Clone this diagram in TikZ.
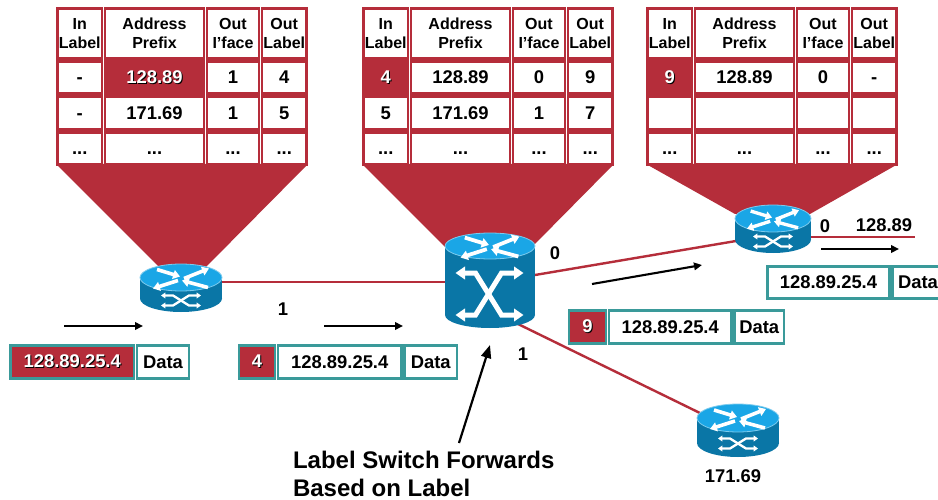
\documentclass[tikz,border=0pt]{standalone}
\usepackage{fontspec}
\setmainfont{Liberation Sans}
\usetikzlibrary{arrows.meta,calc}
\definecolor{mplsred}{HTML}{B52D3A}
\definecolor{pktteal}{HTML}{3A9A9A}
\definecolor{rtop}{HTML}{1AA6E6}
\definecolor{rside}{HTML}{0A76A6}
\definecolor{redge}{HTML}{7CCBEE}
\newcommand\shtxt[1]{\leavevmode\rlap{\kern1pt\raisebox{-1pt}{\color{black}#1}}#1}
\newcommand\lowtxt[1]{\vphantom{1}#1}
\tikzset{
  base/.style={inner sep=0pt,outer sep=0pt,font=\bfseries\fontsize{18.4}{19}\selectfont,text=black},
  cellfont/.style={},
  hdrfont/.style={font=\bfseries\fontsize{16}{19}\selectfont},
  bigfont/.style={font=\bfseries\fontsize{24}{28}\selectfont,align=left},
  funnel/.style={fill=mplsred,draw=none},
  linkline/.style={draw=mplsred,line width=2.4pt},
  flow/.style={draw=black,line width=2.1pt,-{Triangle[length=8pt,width=7.5pt]}},
  bigflow/.style={draw=black,line width=2.2pt,-{Triangle[length=13pt,width=10pt]}},
  whitearrow/.style={draw=white,-{Triangle[length=0pt 1.9,width=0pt 2.5]}},
  whitearrows/.style={draw=white,{Triangle[length=0pt 1.9,width=0pt 2.5]}-{Triangle[length=0pt 1.9,width=0pt 2.5]}},
}
% cell: name, x1, y1, x2, y2, border colour, fill, text colour, text
\newcommand\cell[9]{%
  \pgfmathsetmacro\cw{#4-#2-2.8}\pgfmathsetmacro\ch{#5-#3-2.8}%
  \node[base,cellfont,draw=#6,line width=2.5pt,fill=#7,text=#8,minimum width=\cw pt,minimum height=\ch pt,align=center] (#1) at ({(#2+#4)/2},{(#3+#5)/2}) {#9};}
% table header cell
\newcommand\hdrcell[4]{\begingroup\tikzset{cellfont/.style={hdrfont}}\cell{#1}{#2}{7}{#3}{60}{mplsred}{white}{black}{#4}\endgroup}
\newcommand\topicon[3]{%
  \begin{scope}[shift={(#1,#2)},x=#3pt,y=-#3pt]
    \draw[whitearrow,line width=#3*3.6pt] (-24,-8) -- (-1,-1);
    \draw[whitearrow,line width=#3*3.6pt] (3,1) -- (28,-9);
    \draw[whitearrow,line width=#3*3.6pt] (-3,3) -- (-28,11);
    \draw[whitearrow,line width=#3*3.6pt] (27,10) -- (1,3);
  \end{scope}}
% router: name, cx, cy(top ellipse), rx, ry, height, icon-scale
\newcommand\router[7]{%
  \coordinate (#1) at (#2,#3+#6/2);
  \fill[rside] (#2,#3+#6) ellipse [x radius=#4,y radius=#5];
  \fill[rside] (#2-#4,#3) rectangle (#2+#4,#3+#6);
  \fill[rtop,draw=redge,line width=.8pt] (#2,#3) ellipse [x radius=#4,y radius=#5];
  \topicon{#2}{#3}{#7}
  \begin{scope}[shift={(#2,#3+#5+#6/2-1)}]
    \draw[whitearrows,line width=2.3pt] (-20,-5) -- (-8,-5) -- (8,5) -- (20,5);
    \draw[whitearrows,line width=2.3pt] (-20,5) -- (-8,5) -- (8,-5) -- (20,-5);
  \end{scope}}
\newcommand\lsrouter[7]{%
  \coordinate (#1) at (#2,#3+#6/2);
  \fill[rside] (#2,#3+#6) ellipse [x radius=#4,y radius=#5];
  \fill[rside] (#2-#4,#3) rectangle (#2+#4,#3+#6);
  \fill[rtop,draw=redge,line width=.8pt] (#2,#3) ellipse [x radius=#4,y radius=#5];
  \topicon{#2}{#3}{#7}
  \begin{scope}[shift={(#2-.5,#3+48)}]
    \draw[whitearrows,line width=5pt] (-34,-21) -- (-14,-21) -- (12,21) -- (34,21);
    \draw[whitearrows,line width=5pt] (-34,21) -- (-14,21) -- (12,-21) -- (34,-21);
  \end{scope}}
\begin{document}
\begin{tikzpicture}[x=1pt,y=-1pt]
\useasboundingbox (0,0) rectangle (938,500);
\fill[white] (0,0) rectangle (938,500);
% funnels
\fill[funnel] (56,164) -- (308,164) -- (205,268) -- (160,268) -- cycle;
\fill[funnel] (362,164) -- (614,164) -- (532,247) -- (445,247) -- cycle;
\fill[funnel] (646,164) -- (898,164) -- (810,214) -- (735,214) -- cycle;
% named end points and routers
\coordinate (r3out) at (915,237);
\coordinate (r1p) at (222,282);
\coordinate (lsrw) at (445,282);
\coordinate (lsre) at (535,275);
\coordinate (r3w) at (736,241);
\coordinate (r3e) at (810,237);
\coordinate (lsrs) at (518,324);
\coordinate (r4w) at (702,414);
\draw[linkline] (r1p) -- (lsrw);
\draw[linkline] (lsre) -- (r3w);
\draw[linkline] (r3e) -- (r3out);
\draw[linkline] (lsrs) -- (r4w);
\router{r1}{181}{277.5}{41}{13.5}{21}{1}
\lsrouter{lsr}{490}{246}{45}{13}{69}{1.05}
\router{r3}{773}{218.5}{38}{13.5}{21}{.93}
\router{r4}{738}{418}{41}{14}{25}{1}
% table 1
\hdrcell{aa}{56}{103.5}{In\\Label}
\hdrcell{ab}{103.5}{205.5}{Address\\Prefix}
\hdrcell{ac}{205.5}{260.5}{Out\\I’face}
\hdrcell{ad}{260.5}{308}{Out\\Label}
\cell{ae}{56}{60}{103.5}{95}{mplsred}{white}{black}{\lowtxt{-}}
\cell{af}{103.5}{60}{205.5}{95}{mplsred}{mplsred}{white}{\shtxt{128.89}}
\cell{ag}{205.5}{60}{260.5}{95}{mplsred}{white}{black}{1}
\cell{ah}{260.5}{60}{308}{95}{mplsred}{white}{black}{4}
\cell{ai}{56}{95}{103.5}{131}{mplsred}{white}{black}{\lowtxt{-}}
\cell{aj}{103.5}{95}{205.5}{131}{mplsred}{white}{black}{171.69}
\cell{ak}{205.5}{95}{260.5}{131}{mplsred}{white}{black}{1}
\cell{al}{260.5}{95}{308}{131}{mplsred}{white}{black}{5}
\cell{am}{56}{131}{103.5}{166}{mplsred}{white}{black}{\lowtxt{...}}
\cell{an}{103.5}{131}{205.5}{166}{mplsred}{white}{black}{\lowtxt{...}}
\cell{ao}{205.5}{131}{260.5}{166}{mplsred}{white}{black}{\lowtxt{...}}
\cell{ap}{260.5}{131}{308}{166}{mplsred}{white}{black}{\lowtxt{...}}
% table 2
\hdrcell{ba}{362}{409.5}{In\\Label}
\hdrcell{bb}{409.5}{511.5}{Address\\Prefix}
\hdrcell{bc}{511.5}{566.5}{Out\\I’face}
\hdrcell{bd}{566.5}{614}{Out\\Label}
\cell{be}{362}{60}{409.5}{95}{mplsred}{mplsred}{white}{\shtxt{4}}
\cell{bf}{409.5}{60}{511.5}{95}{mplsred}{white}{black}{128.89}
\cell{bg}{511.5}{60}{566.5}{95}{mplsred}{white}{black}{0}
\cell{bh}{566.5}{60}{614}{95}{mplsred}{white}{black}{9}
\cell{bi}{362}{95}{409.5}{131}{mplsred}{white}{black}{5}
\cell{bj}{409.5}{95}{511.5}{131}{mplsred}{white}{black}{171.69}
\cell{bk}{511.5}{95}{566.5}{131}{mplsred}{white}{black}{1}
\cell{bl}{566.5}{95}{614}{131}{mplsred}{white}{black}{7}
\cell{bm}{362}{131}{409.5}{166}{mplsred}{white}{black}{\lowtxt{...}}
\cell{bn}{409.5}{131}{511.5}{166}{mplsred}{white}{black}{\lowtxt{...}}
\cell{bo}{511.5}{131}{566.5}{166}{mplsred}{white}{black}{\lowtxt{...}}
\cell{bp}{566.5}{131}{614}{166}{mplsred}{white}{black}{\lowtxt{...}}
% table 3
\hdrcell{ca}{646}{693.5}{In\\Label}
\hdrcell{cb}{693.5}{795.5}{Address\\Prefix}
\hdrcell{cc}{795.5}{850.5}{Out\\I’face}
\hdrcell{cd}{850.5}{898}{Out\\Label}
\cell{ce}{646}{60}{693.5}{95}{mplsred}{mplsred}{white}{\shtxt{9}}
\cell{cf}{693.5}{60}{795.5}{95}{mplsred}{white}{black}{128.89}
\cell{cg}{795.5}{60}{850.5}{95}{mplsred}{white}{black}{0}
\cell{ch}{850.5}{60}{898}{95}{mplsred}{white}{black}{\lowtxt{-}}
\cell{ci}{646}{95}{693.5}{131}{mplsred}{white}{black}{}
\cell{cj}{693.5}{95}{795.5}{131}{mplsred}{white}{black}{}
\cell{ck}{795.5}{95}{850.5}{131}{mplsred}{white}{black}{}
\cell{cl}{850.5}{95}{898}{131}{mplsred}{white}{black}{}
\cell{cm}{646}{131}{693.5}{166}{mplsred}{white}{black}{\lowtxt{...}}
\cell{cn}{693.5}{131}{795.5}{166}{mplsred}{white}{black}{\lowtxt{...}}
\cell{co}{795.5}{131}{850.5}{166}{mplsred}{white}{black}{\lowtxt{...}}
\cell{cp}{850.5}{131}{898}{166}{mplsred}{white}{black}{\lowtxt{...}}
% packets
\cell{p1a}{9}{344}{135.5}{380}{pktteal}{mplsred}{white}{\shtxt{128.89.25.4}}
\cell{p1b}{135.5}{344}{190.5}{380}{pktteal}{white}{black}{Data}
\cell{p2a}{237.5}{344}{276.5}{380}{pktteal}{mplsred}{white}{\shtxt{4}}
\cell{p2b}{276.5}{344}{403}{380}{pktteal}{white}{black}{128.89.25.4}
\cell{p2c}{403}{344}{458.5}{380}{pktteal}{white}{black}{Data}
\cell{p3a}{567.5}{309}{607.5}{345}{pktteal}{mplsred}{white}{\shtxt{9}}
\cell{p3b}{607.5}{309}{733}{345}{pktteal}{white}{black}{128.89.25.4}
\cell{p3c}{733}{309}{785.5}{345}{pktteal}{white}{black}{Data}
\cell{p4a}{766}{265}{891}{300}{pktteal}{white}{black}{128.89.25.4}
\cell{p4b}{891}{265}{945}{300}{pktteal}{white}{black}{Data}
% flow arrows
\coordinate (f1a) at (64,326); \coordinate (f1b) at (143,326);
\coordinate (f2a) at (324,326); \coordinate (f2b) at (403,326);
\coordinate (f3a) at (592,284); \coordinate (f3b) at (702,265);
\coordinate (f4a) at (821,249); \coordinate (f4b) at (899,249);
\coordinate (f5a) at (459,443); \coordinate (f5b) at (490,345);
\draw[flow] (f1a) -- (f1b);
\draw[flow] (f2a) -- (f2b);
\draw[flow] (f3a) -- (f3b);
\draw[flow] (f4a) -- (f4b);
\draw[bigflow] (f5a) -- (f5b);
% labels
\node[base] (l1) at (283,309) {1};
\node[base] (l2) at (555,253) {0};
\node[base] (l3) at (523,354) {1};
\node[base] (l4) at (825,226) {0};
\node[base] (l5) at (884,225) {128.89};
\node[base] (l6) at (733,476) {171.69};
\node[base,bigfont,anchor=north west] (l7) at (293,451) {Label Switch Forwards\\Based on Label};
\end{tikzpicture}
\end{document}
